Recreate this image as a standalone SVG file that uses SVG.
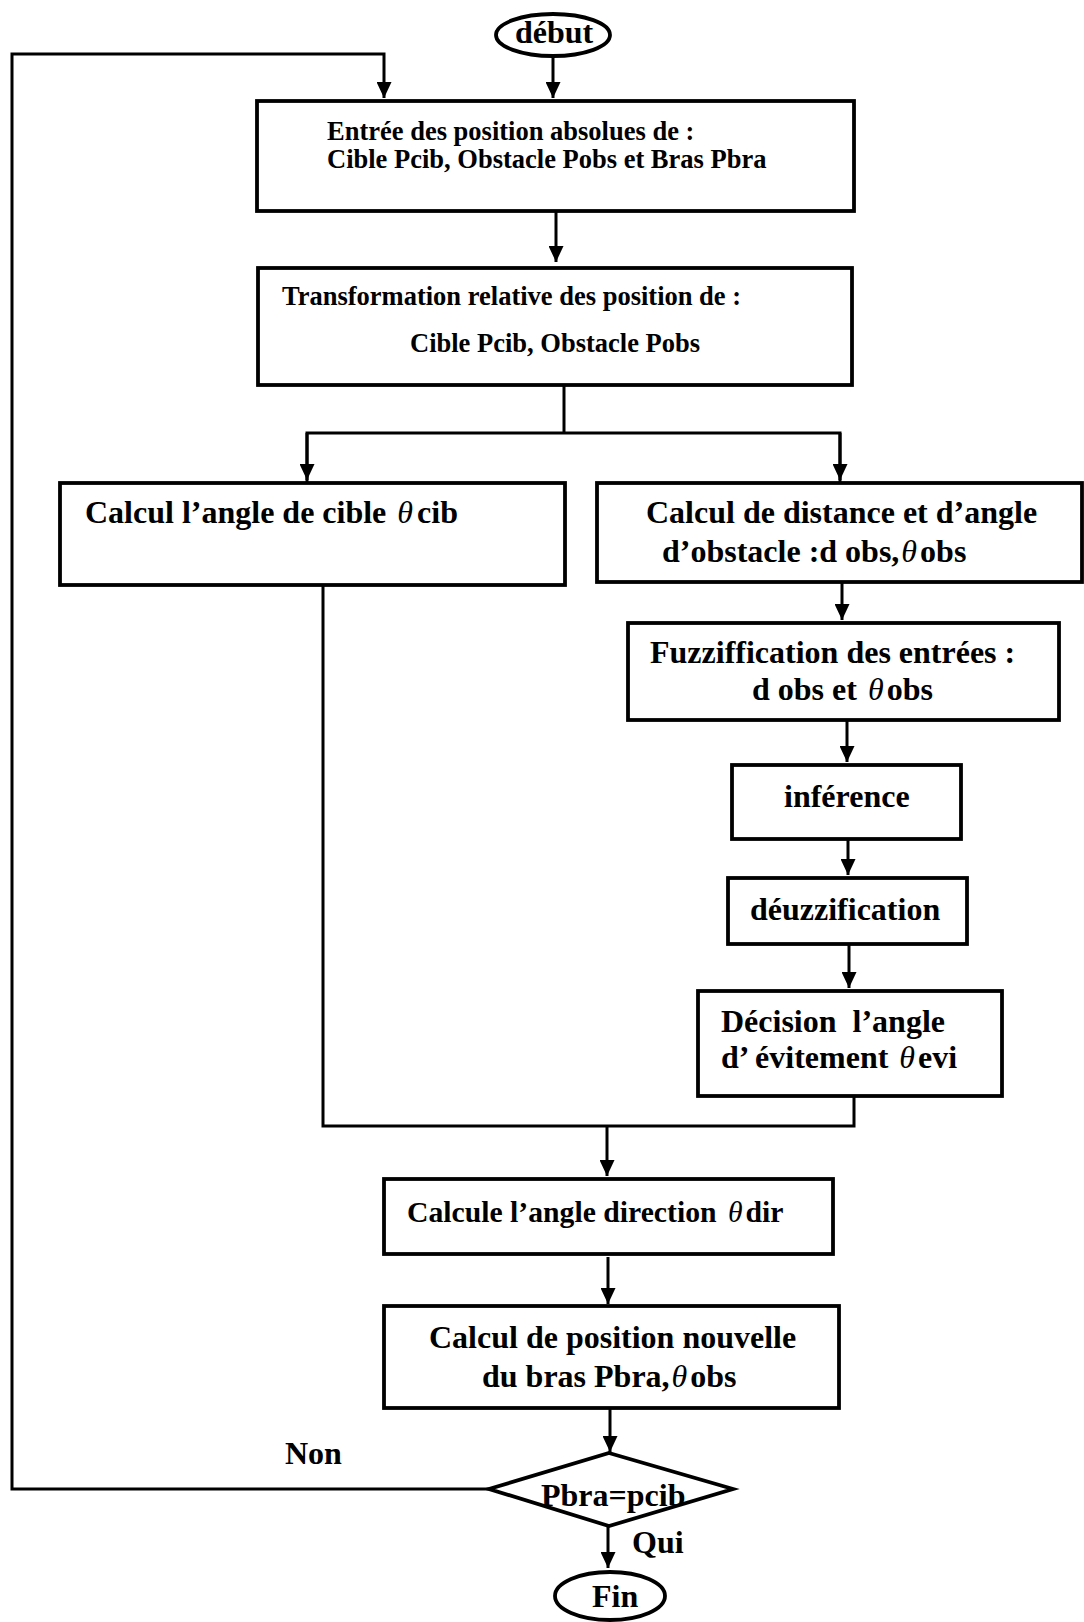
<svg xmlns="http://www.w3.org/2000/svg" width="1084" height="1622" viewBox="0 0 1084 1622">
<defs>
<style>
.box{fill:#fff;stroke:#000;stroke-width:3.8}
.ln{fill:none;stroke:#000;stroke-width:3}
.t{font-family:"Liberation Serif","Times New Roman",serif;font-weight:bold;font-size:32px;fill:#000}
.s{font-size:26.5px}
.m{font-size:29.7px}
.th{font-style:italic;font-weight:normal}
</style>
<marker id="ah" markerUnits="userSpaceOnUse" markerWidth="16" markerHeight="15" refX="16" refY="7.5" orient="auto">
<path d="M0,0 L16,7.5 L0,15 z" fill="#000"/>
</marker>
</defs>
<rect width="1084" height="1622" fill="#fff"/>
<g id="connectors">
<line class="ln" x1="553" y1="57" x2="553" y2="98" marker-end="url(#ah)"/>
<polyline class="ln" points="489,1489 12,1489 12,54 384,54 384,98" marker-end="url(#ah)"/>
<line class="ln" x1="556" y1="211" x2="556" y2="262" marker-end="url(#ah)"/>
<line class="ln" x1="564" y1="385" x2="564" y2="433"/>
<polyline class="ln" points="307,482 307,433 840,433 840,482"/>
<line class="ln" x1="307" y1="433" x2="307" y2="480" marker-end="url(#ah)"/>
<line class="ln" x1="840" y1="433" x2="840" y2="480" marker-end="url(#ah)"/>
<line class="ln" x1="842" y1="582" x2="842" y2="620" marker-end="url(#ah)"/>
<line class="ln" x1="847" y1="720" x2="847" y2="762" marker-end="url(#ah)"/>
<line class="ln" x1="848" y1="839" x2="848" y2="875" marker-end="url(#ah)"/>
<line class="ln" x1="849" y1="944" x2="849" y2="988" marker-end="url(#ah)"/>
<polyline class="ln" points="323,585 323,1126 854,1126 854,1096"/>
<line class="ln" x1="607" y1="1126" x2="607" y2="1176" marker-end="url(#ah)"/>
<line class="ln" x1="608" y1="1257" x2="608" y2="1304" marker-end="url(#ah)"/>
<line class="ln" x1="610" y1="1408" x2="610" y2="1452" marker-end="url(#ah)"/>
<line class="ln" x1="608" y1="1526" x2="608" y2="1568" marker-end="url(#ah)"/>
</g>
<g id="debut">
<ellipse class="box" cx="553" cy="35" rx="57" ry="21" stroke-width="3"/>
<text class="t" x="515" y="43">début</text>
</g>
<g id="entree">
<rect class="box" x="257" y="101" width="597" height="110"/>
<text class="t s" x="327" y="140">Entrée des position absolues de :</text>
<text class="t s" x="327" y="168">Cible Pcib, Obstacle Pobs et Bras Pbra</text>
</g>
<g id="transformation">
<rect class="box" x="258" y="268" width="594" height="117"/>
<text class="t s" x="282" y="305">Transformation relative des position de :</text>
<text class="t s" x="410" y="352">Cible Pcib, Obstacle Pobs</text>
</g>
<g id="angle-cible">
<rect class="box" x="60" y="483" width="505" height="102"/>
<text class="t" x="85" y="523">Calcul l’angle de cible <tspan class="th" dx="3">θ</tspan><tspan dx="4">cib</tspan></text>
</g>
<g id="distance-obstacle">
<rect class="box" x="597" y="483" width="485" height="99"/>
<text class="t" x="646" y="523">Calcul de distance et d’angle</text>
<text class="t" x="662" y="562">d’obstacle :d obs,<tspan class="th" dx="2">θ</tspan><tspan dx="3">obs</tspan></text>
</g>
<g id="fuzzification">
<rect class="box" x="628" y="623" width="431" height="97"/>
<text class="t" x="650" y="663">Fuzziffication des entrées :</text>
<text class="t" x="752" y="700">d obs et <tspan class="th" dx="3">θ</tspan><tspan dx="3">obs</tspan></text>
</g>
<g id="inference">
<rect class="box" x="732" y="765" width="229" height="74"/>
<text class="t" x="784" y="807">inférence</text>
</g>
<g id="deuzzification">
<rect class="box" x="728" y="878" width="239" height="66"/>
<text class="t" x="750" y="920">déuzzification</text>
</g>
<g id="decision">
<rect class="box" x="698" y="991" width="304" height="105"/>
<text class="t" x="721" y="1032">Décision <tspan dx="8">l’angle</tspan></text>
<text class="t" x="721" y="1068">d’ évitement <tspan class="th" dx="3">θ</tspan><tspan dx="3">evi</tspan></text>
</g>
<g id="direction">
<rect class="box" x="384" y="1179" width="449" height="75"/>
<text class="t m" x="407" y="1222">Calcule l’angle direction <tspan class="th" dx="4">θ</tspan><tspan dx="3">dir</tspan></text>
</g>
<g id="position">
<rect class="box" x="384" y="1306" width="455" height="102"/>
<text class="t" x="429" y="1348">Calcul de position nouvelle</text>
<text class="t" x="482" y="1387">du bras Pbra,<tspan class="th" dx="2">θ</tspan><tspan dx="3">obs</tspan></text>
</g>
<g id="test">
<polygon class="box" points="609,1453 733,1489 609,1526 489,1489" fill="none"/>
<text class="t" x="541" y="1506">Pbra=pcib</text>
</g>
<g id="labels">
<text class="t" x="285" y="1464">Non</text>
<text class="t" x="632" y="1553">Qui</text>
</g>
<g id="fin">
<ellipse class="box" cx="610" cy="1596" rx="55" ry="24" stroke-width="3"/>
<text class="t" x="592" y="1607">Fin</text>
</g>
</svg>
